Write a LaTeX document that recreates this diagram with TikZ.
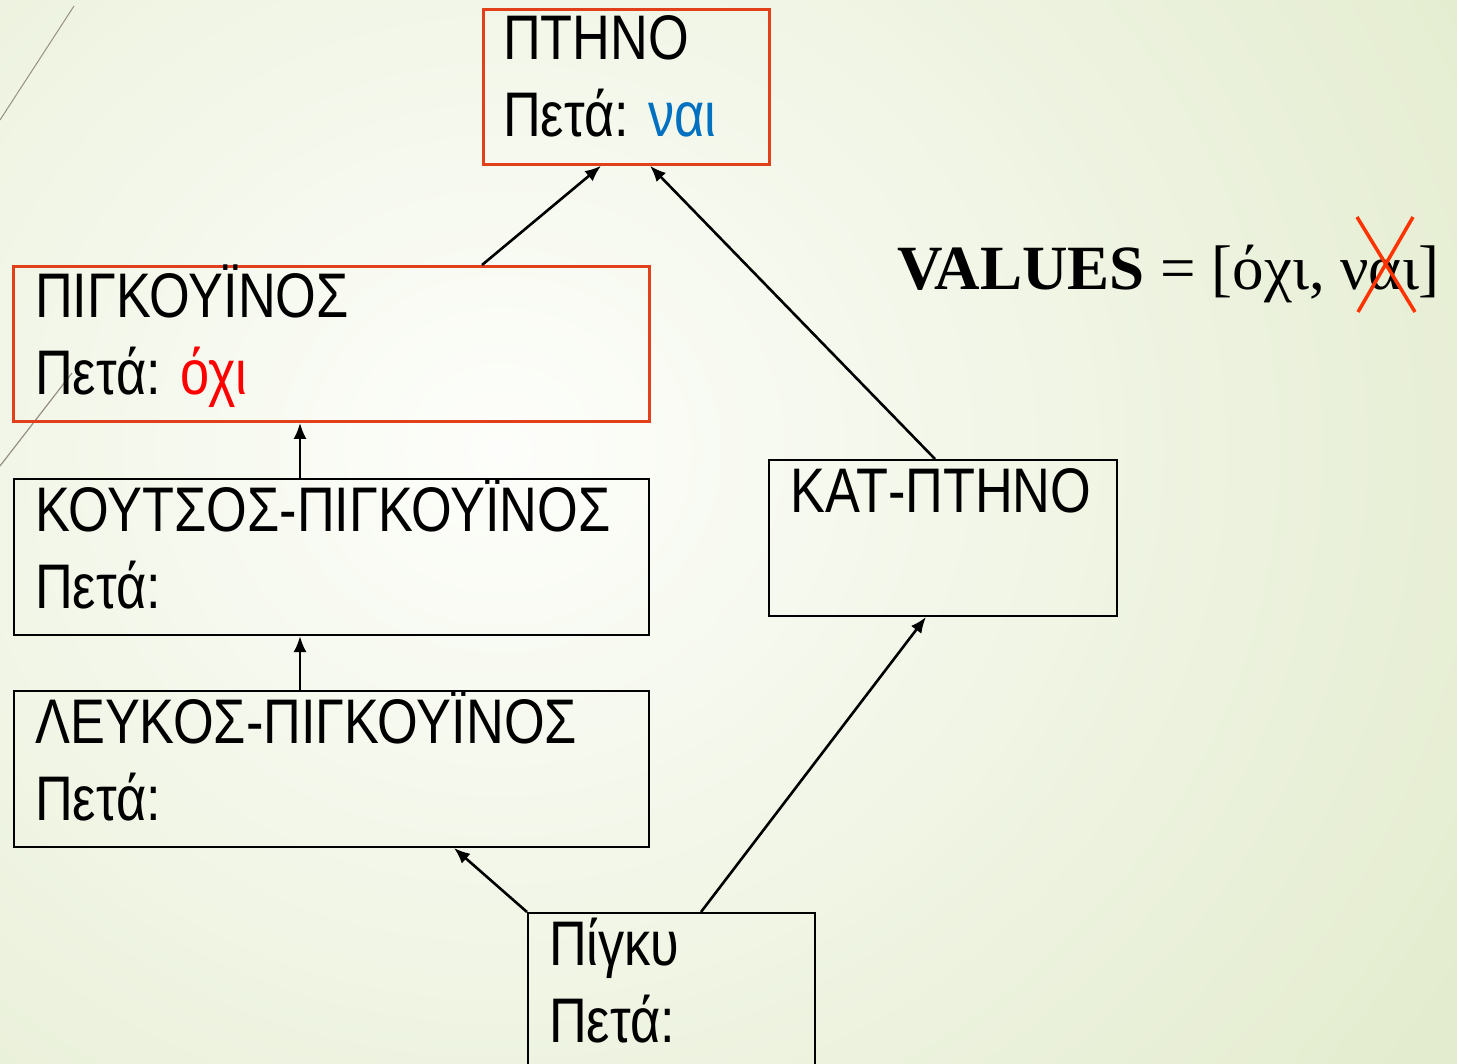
\documentclass[tikz,border=0pt]{standalone}
\usepackage{fontspec}
\usetikzlibrary{arrows.meta,calc}
\newfontfamily\narrowsans{Liberation Sans}[FakeStretch=0.83]
\newfontfamily\timesfont{Liberation Serif}
\definecolor{bgout}{RGB}{226,235,204}
\definecolor{bgin}{RGB}{253,254,251}
\definecolor{boxred}{RGB}{226,64,26}
\definecolor{yesblue}{RGB}{0,112,192}
\definecolor{nored}{RGB}{255,0,0}
\definecolor{xred}{RGB}{255,51,0}
\definecolor{decoline}{RGB}{150,144,128}
\begin{document}
\begin{tikzpicture}[x=1pt,y=-1pt,
  bx/.style={draw=black, line width=2pt, inner sep=0pt, anchor=north west},
  redbx/.style={bx, draw=boxred, line width=2.8pt},
  lbl/.style={anchor=base west, inner sep=0pt, font=\narrowsans\fontsize{63}{77}\selectfont},
  link/.style={line width=2.6pt, -{Latex[length=16pt,width=13pt]}}
]
\clip (0,0) rectangle (1457,1064);
\shade[inner color=bgin, outer color=bgout] (-700,-650) rectangle (1700,1550);
% decorative lines
\draw[decoline, line width=1pt] (74,6) -- (0,120);
\draw[decoline, line width=1.2pt] (0,466) -- (72,373);

% boxes
\node[redbx, minimum width=286pt, minimum height=155pt] (ptino) at (482,8) {};
\node[redbx, minimum width=636pt, minimum height=155pt] (pig) at (12,265) {};
\node[bx, minimum width=635pt, minimum height=156pt] (kout) at (13,478) {};
\node[bx, minimum width=635pt, minimum height=156pt] (lefk) at (13,690) {};
\node[bx, minimum width=348pt, minimum height=156pt] (kat) at (768,459) {};
\node[bx, minimum width=287pt, minimum height=170pt] (pigky) at (527,912) {};

% texts
\node[lbl] (ptino1) at (503,60) {ΠΤΗΝΟ};
\node[lbl] (ptino2) at (503,137) {Πετά: \textcolor{yesblue}{ναι}};
\node[lbl] (pig1) at (35,318) {ΠΙΓΚΟΥΪΝΟΣ};
\node[lbl] (pig2) at (35,395) {Πετά: \textcolor{nored}{όχι}};
\node[lbl] (kout1) at (35,531) {ΚΟΥΤΣΟΣ-ΠΙΓΚΟΥΪΝΟΣ};
\node[lbl] (kout2) at (35,608) {Πετά:};
\node[lbl] (lefk1) at (35,743) {ΛΕΥΚΟΣ-ΠΙΓΚΟΥΪΝΟΣ};
\node[lbl] (lefk2) at (35,820) {Πετά:};
\node[lbl] (kat1) at (790,512) {ΚΑΤ-ΠΤΗΝΟ};
\node[lbl] (pigky1) at (549,965) {Πίγκυ};
\node[lbl] (pigky2) at (549,1042) {Πετά:};

% values
\node[anchor=base west, inner sep=0pt, font=\timesfont\fontsize{63}{70}\selectfont] (vals) at (897,290) {\textbf{VALUES} = [όχι, ναι]};
\coordinate (xa) at (1357,217);
\coordinate (xb) at (1415,312);
\coordinate (xc) at (1413,217);
\coordinate (xd) at (1358,312);
\draw[xred, line width=3.5pt] (xa) -- (xb);
\draw[xred, line width=3.5pt] (xc) -- (xd);

% connectors
\draw[link] (482,0 |- pig.north) -- (601,0 |- ptino.south);
\draw[link] (935,0 |- kat.north) -- (650,0 |- ptino.south);
\draw[link] (300,0 |- kout.north) -- (300,0 |- pig.south);
\draw[link] (300,0 |- lefk.north) -- (300,0 |- kout.south);
\draw[link] (pigky.north west) -- (454,0 |- lefk.south);
\draw[link] (701,0 |- pigky.north) -- (926,0 |- kat.south);
\end{tikzpicture}
\end{document}
